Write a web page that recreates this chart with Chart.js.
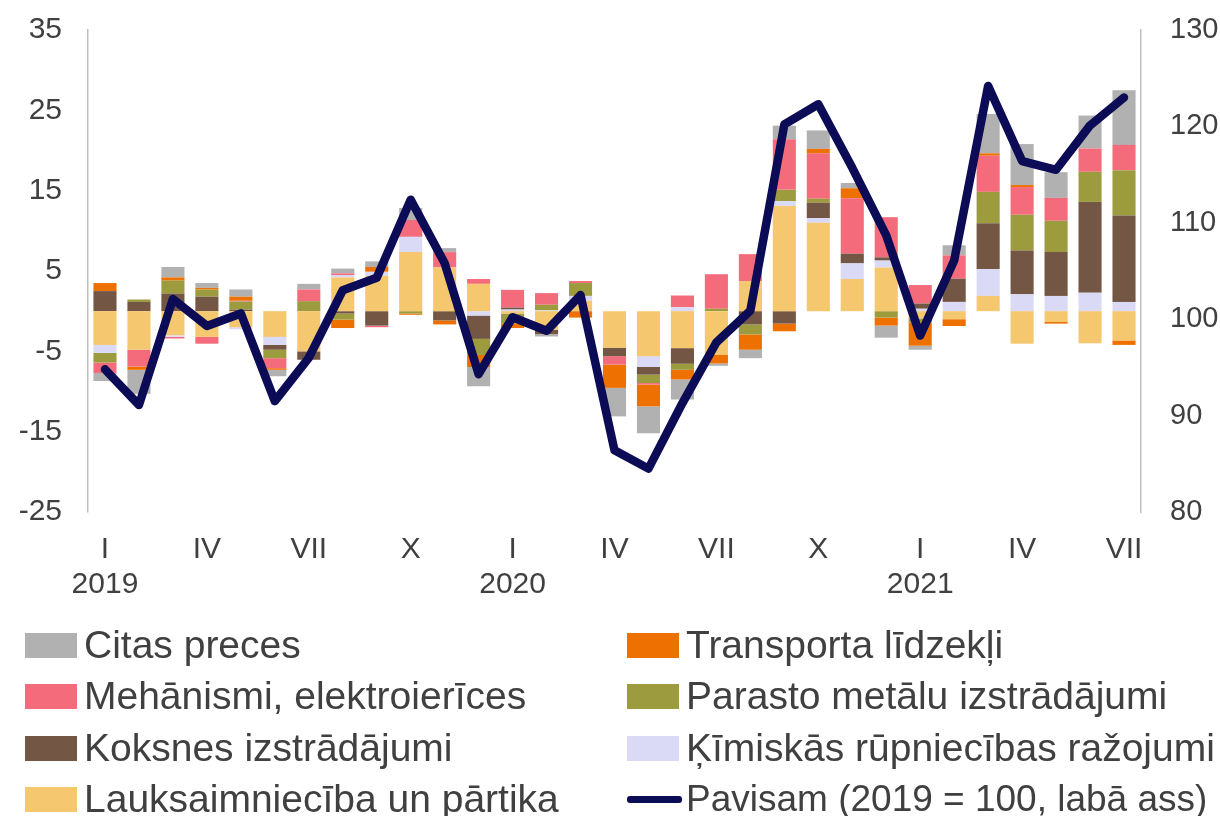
<!DOCTYPE html>
<html>
<head>
<meta charset="utf-8">
<script src="https://cdn.jsdelivr.net/npm/chart.js@4.4.0/dist/chart.umd.min.js"></script>
<style>
  body { margin: 0; background: #fff; font-family: "Liberation Sans", Arial, sans-serif; overflow: hidden; }
  #wrap { position: relative; width: 1220px; height: 816px; }
  #legend { position: absolute; left: 0; top: 0; width: 1220px; height: 816px; pointer-events: none; }
  .item { position: absolute; height: 50px; display: flex; align-items: center; font-size: 39px; color: #404040; white-space: nowrap; }
  .item.total { font-size: 37px; }
  .sw { width: 52px; height: 25px; margin-right: 7px; flex: none; }
  .ln { width: 55px; height: 7px; margin-right: 4px; border-radius: 3px; flex: none; }
</style>
</head>
<body>
<div id="wrap">
  <canvas id="chart" width="1220" height="610"></canvas>
  <div id="legend"></div>
</div>
<script>
// months Jan 2019 .. Jul 2021
const months = ['I','II','III','IV','V','VI','VII','VIII','IX','X','XI','XII',
                'I','II','III','IV','V','VI','VII','VIII','IX','X','XI','XII',
                'I','II','III','IV','V','VI','VII'];
const years = ['2019', '2020', '2021'];

// contributions, percentage points (stack order from zero outwards)
const lauksaimnieciba = [-4.2,-4.8,-3.0,-3.2,-2.0,-3.2,-5.0,4.2,4.4,7.35,5.45,3.4,-0.3,-2.3,1.3,-4.55,-5.6,-4.6,-5.45,3.75,13.1,11.0,4.0,5.45,-0.9,-1.0,1.9,-4.05,-1.35,-4.0,-3.65];
const kimiskas = [-1.0,0,-0.2,0,-0.25,-1.0,0,0.3,0.5,1.9,0,-0.55,0.2,0.1,0.6,0,-1.35,0.5,0,0,0.6,0.6,1.95,0.85,0.3,1.15,3.35,2.1,1.9,2.3,1.15];
const koksnes = [2.5,1.15,2.2,1.8,0.2,-0.6,-1.05,-0.3,-1.8,0,-1.15,-2.9,0.25,-0.55,0,-1.05,-0.95,-1.95,0,-1.65,-1.55,1.9,1.2,0.4,0.65,2.9,5.7,5.45,5.45,11.3,10.75];
const parastoMetalu = [-1.2,0.3,1.6,0.9,1.0,-1.05,1.25,-0.75,0,-0.3,0,-2.0,-1.2,0.7,1.6,0,-1.05,-0.75,0.3,-1.25,1.4,0.5,0,-0.8,-0.5,0,3.9,4.45,3.9,3.75,5.65];
const mehanismi = [-1.3,-2.1,-0.2,-0.85,0.1,-1.25,1.45,0.2,-0.2,2.1,1.9,0.6,2.2,1.45,0.25,-1.05,-0.2,1.45,4.3,3.35,6.3,5.65,6.9,5.0,2.3,2.9,4.5,3.45,2.85,2.9,3.15];
const transporta = [1.0,-0.4,0.4,0.2,0.5,-0.2,0,-1.05,0.6,-0.15,-0.5,-1.5,-0.6,0,-0.8,-2.9,-2.7,-1.2,-1.05,-1.9,-0.95,0.55,1.25,-1.0,-2.9,-0.85,0.3,0.25,-0.2,0,-0.55];
const citas = [-1.0,-3.0,1.3,0.6,0.9,-0.8,0.7,0.6,0.7,1.5,0.5,-2.4,0,-0.3,0,-3.55,-3.35,-2.5,-0.3,-1.05,1.7,2.3,0.65,-1.5,-0.5,1.25,4.9,5.1,3.2,4.1,6.8];

// total index, 2019 = 100 (right axis)
const pavisam = [94.8,91.1,102.1,99.3,100.6,91.5,96.0,103.0,104.3,112.4,105.8,94.3,100.2,98.8,102.5,86.4,84.5,91.3,97.6,100.9,120.2,122.3,115.7,108.7,98.3,106.1,124.2,116.4,115.5,120.1,123.0];

const seriesNames = ['Lauksaimniecība un pārtika', 'Ķīmiskās rūpniecības ražojumi', 'Koksnes izstrādājumi',
                     'Parasto metālu izstrādājumi', 'Mehānismi, elektroierīces', 'Transporta līdzekļi', 'Citas preces'];
const seriesData = [lauksaimnieciba, kimiskas, koksnes, parastoMetalu, mehanismi, transporta, citas];
const seriesColors = ['#F5C76E', '#DADAF7', '#735744', '#9C9B3E', '#F46C7C', '#EE7100', '#B1B1B1'];
const lineName = 'Pavisam (2019 = 100, labā ass)';
const lineColor = '#0C0B56';

const textColor = '#404040';
const axisColor = '#C0C0C0';
const fontFamily = '"Liberation Sans", Arial, sans-serif';

const labels = months.map((m, i) => {
    if (i % 3 !== 0) return '';
    if (i % 12 === 0) return [m, years[i / 12]];
    return m;
});

const datasets = seriesNames.map((name, i) => ({
    type: 'bar',
    label: name,
    data: seriesData[i],
    backgroundColor: seriesColors[i],
    borderWidth: 0,
    barPercentage: 0.68,
    categoryPercentage: 1,
    yAxisID: 'y',
    order: 1
}));

datasets.push({
    type: 'line',
    label: lineName,
    data: pavisam,
    borderColor: lineColor,
    borderWidth: 8.5,
    pointRadius: 0,
    tension: 0,
    borderJoinStyle: 'round',
    borderCapStyle: 'round',
    yAxisID: 'y1',
    order: 0
});

new Chart(document.getElementById('chart'), {
    data: { labels: labels, datasets: datasets },
    options: {
        responsive: false,
        animation: false,
        layout: { padding: { top: 30, left: 0, right: 0, bottom: 0 } },
        plugins: { legend: { display: false }, tooltip: { enabled: false } },
        scales: {
            x: {
                stacked: true,
                grid: { display: false },
                border: { display: false },
                ticks: {
                    autoSkip: false,
                    maxRotation: 0,
                    padding: 12,
                    color: textColor,
                    font: { family: fontFamily, size: 30, lineHeight: 1.17 }
                },
                afterFit: s => { s.height = 98; }
            },
            y: {
                stacked: true,
                position: 'left',
                min: -25,
                max: 35,
                ticks: {
                    stepSize: 10,
                    padding: 0,
                    color: textColor,
                    font: { family: fontFamily, size: 30 }
                },
                // invisible tick marks give the gap between labels and axis
                grid: {
                    drawTicks: true,
                    tickLength: 26,
                    tickColor: 'rgba(0,0,0,0)',
                    lineWidth: 1.5,
                    color: ctx => (ctx.tick && ctx.tick.value === 0) ? axisColor : 'rgba(0,0,0,0)'
                },
                border: { display: true, color: axisColor, width: 1.5 },
                afterFit: s => { s.width = 88; }
            },
            y1: {
                position: 'right',
                min: 80,
                max: 130,
                ticks: {
                    stepSize: 10,
                    padding: 0,
                    color: textColor,
                    font: { family: fontFamily, size: 29 }
                },
                grid: {
                    drawOnChartArea: false,
                    drawTicks: true,
                    tickLength: 29,
                    tickColor: 'rgba(0,0,0,0)'
                },
                border: { display: true, color: axisColor, width: 1.5 },
                afterFit: s => { s.width = 79; }
            }
        }
    }
});

// legend, two columns like the original
const legendItems = [];
for (let i = seriesNames.length - 1; i >= 0; i--) {
    legendItems.push({ name: seriesNames[i], color: seriesColors[i], line: false });
}
legendItems.push({ name: lineName, color: lineColor, line: true });

const colX = [25, 627];
const rowY = [645, 696, 748, 799];
const legend = document.getElementById('legend');
legendItems.forEach((item, i) => {
    const el = document.createElement('div');
    el.className = item.line ? 'item total' : 'item';
    el.style.left = colX[i % 2] + 'px';
    el.style.top = (rowY[Math.floor(i / 2)] - 25) + 'px';
    const mark = document.createElement('span');
    mark.className = item.line ? 'ln' : 'sw';
    mark.style.background = item.color;
    const txt = document.createElement('span');
    txt.textContent = item.name;
    el.appendChild(mark);
    el.appendChild(txt);
    legend.appendChild(el);
});
</script>
</body>
</html>
